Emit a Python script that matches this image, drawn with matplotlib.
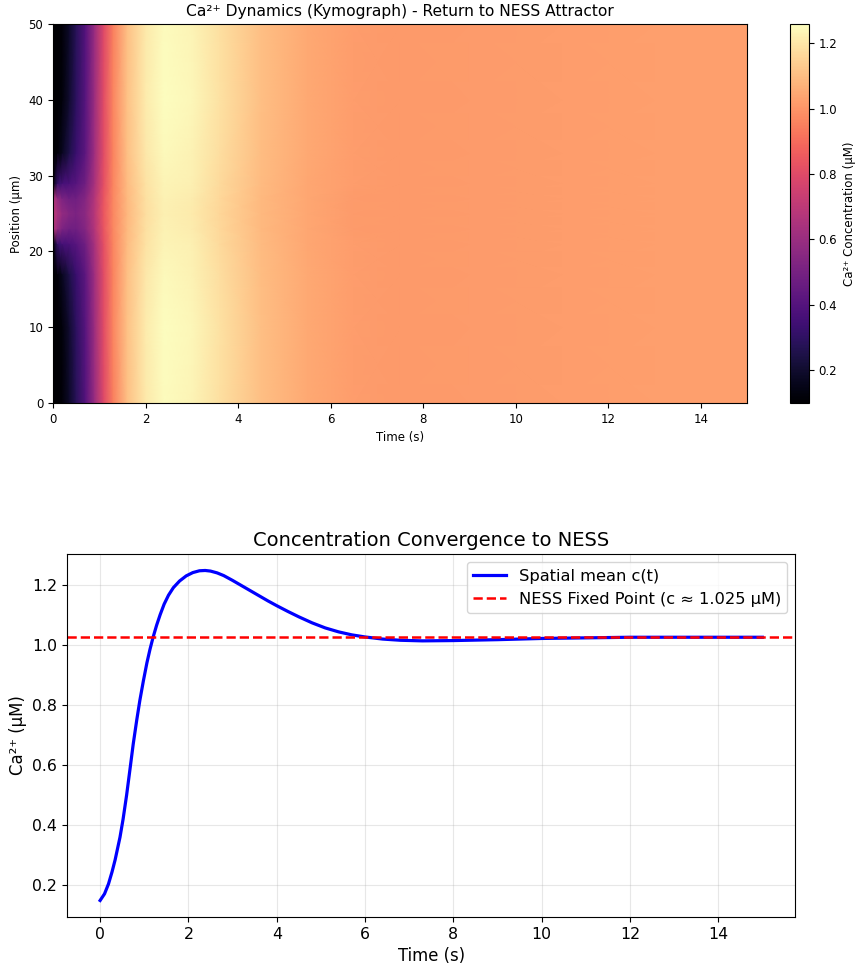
import numpy as np
import matplotlib
matplotlib.use('Agg')
import matplotlib.pyplot as plt

# Spatial mean of Ca2+
mean_t = [0, 0.1, 0.19, 0.27, 0.34, 0.45, 0.52, 0.6, 0.68, 0.75, 0.83, 0.9,
          0.98, 1.06, 1.13, 1.2, 1.28, 1.36, 1.45, 1.55, 1.66, 1.8, 1.95, 2.1,
          2.25, 2.38, 2.5, 2.65, 2.8, 3.0, 3.2, 3.4, 3.6, 3.8, 4.0, 4.25, 4.5,
          4.8, 5.1, 5.4, 5.7, 6.0, 6.4, 6.8, 7.3, 8.0, 9.0, 10, 11, 12, 13, 14, 15]
mean_c = [0.150, 0.172, 0.205, 0.245, 0.285, 0.360, 0.420, 0.500, 0.590, 0.670,
          0.750, 0.815, 0.880, 0.940, 0.985, 1.025, 1.065, 1.100, 1.135, 1.165,
          1.190, 1.212, 1.229, 1.240, 1.246, 1.247, 1.245, 1.239, 1.230, 1.214,
          1.197, 1.180, 1.163, 1.146, 1.130, 1.111, 1.093, 1.073, 1.056, 1.043,
          1.033, 1.026, 1.019, 1.015, 1.013, 1.014, 1.017, 1.021, 1.023, 1.025,
          1.025, 1.025, 1.025]
ness_value = 1.025

# Kymograph samples (symmetric about 25 um)
kymo_t = [0, 0.1, 0.2, 0.35, 0.5, 0.7, 0.9, 1.1, 1.3, 1.6, 2.0, 2.4, 3.0, 3.6,
          4.5, 5.5, 6.5, 7.5, 9, 11, 13, 15]
pos_half = [0, 10, 17, 21, 23, 25]
row_0 = [0.10, 0.10, 0.12, 0.19, 0.28, 0.40, 0.60, 0.80, 0.95, 1.10, 1.205, 1.250,
         1.235, 1.185, 1.100, 1.048, 1.021, 1.013, 1.017, 1.022, 1.025, 1.025]
row_10 = [0.10, 0.10, 0.125, 0.20, 0.29, 0.41, 0.61, 0.81, 0.96, 1.105, 1.21, 1.258,
          1.240, 1.187, 1.100, 1.048, 1.021, 1.013, 1.017, 1.022, 1.025, 1.025]
row_17 = [0.10, 0.12, 0.17, 0.25, 0.33, 0.43, 0.62, 0.81, 0.955, 1.10, 1.20, 1.245,
          1.230, 1.180, 1.096, 1.046, 1.020, 1.013, 1.017, 1.022, 1.025, 1.025]
row_21 = [0.10, 0.32, 0.36, 0.38, 0.41, 0.48, 0.64, 0.82, 0.96, 1.095, 1.19, 1.235,
          1.222, 1.172, 1.092, 1.044, 1.019, 1.013, 1.017, 1.022, 1.025, 1.025]
row_23 = [0.68, 0.58, 0.52, 0.48, 0.48, 0.54, 0.67, 0.84, 0.965, 1.09, 1.183, 1.228,
          1.214, 1.166, 1.089, 1.043, 1.018, 1.013, 1.017, 1.022, 1.025, 1.025]
row_25 = [0.70, 0.64, 0.58, 0.54, 0.52, 0.56, 0.68, 0.845, 0.965, 1.085, 1.178, 1.222,
          1.209, 1.162, 1.087, 1.042, 1.018, 1.013, 1.017, 1.022, 1.025, 1.025]

rows_half = [row_0, row_10, row_17, row_21, row_23, row_25]
positions = pos_half + [50 - p for p in reversed(pos_half[:-1])]
kymo = np.array(rows_half + list(reversed(rows_half[:-1])))
T, Y = np.meshgrid(kymo_t, positions)

fig = plt.figure(figsize=(8.59, 9.69), dpi=100)
ax1 = fig.add_axes([0.0617, 0.5841, 0.808, 0.391])
cax = fig.add_axes([0.9197, 0.5841, 0.0221, 0.391])
ax2 = fig.add_axes([0.078, 0.0537, 0.848, 0.3746])

# top: kymograph
im = ax1.pcolormesh(T, Y, kymo, cmap='magma', shading='gouraud', rasterized=True)
ax1.set_xlim(0, 15)
ax1.set_ylim(0, 50)
ax1.set_title('Ca²⁺ Dynamics (Kymograph) - Return to NESS Attractor', fontsize=11.2)
ax1.set_xlabel('Time (s)', fontsize=8.5)
ax1.set_ylabel('Position (µm)', fontsize=8.5)
ax1.tick_params(labelsize=8.5)
cb = fig.colorbar(im, cax=cax)
cb.set_label('Ca²⁺ Concentration (µM)', fontsize=8.5)
cb.ax.tick_params(labelsize=8.5)

# bottom: mean concentration
ax2.plot(mean_t, mean_c, color='blue', linewidth=2.3, label='Spatial mean c(t)')
ax2.axhline(ness_value, color='red', linestyle='--', linewidth=1.8,
            label='NESS Fixed Point (c ≈ 1.025 µM)')
ax2.set_title('Concentration Convergence to NESS', fontsize=14.0)
ax2.set_xlabel('Time (s)', fontsize=11.9)
ax2.set_ylabel('Ca²⁺ (µM)', fontsize=11.9)
ax2.tick_params(labelsize=11.3)
ax2.grid(True, alpha=0.3)
ax2.legend(loc='upper right', fontsize=11.7)

fig.savefig('out.png', dpi=100)
